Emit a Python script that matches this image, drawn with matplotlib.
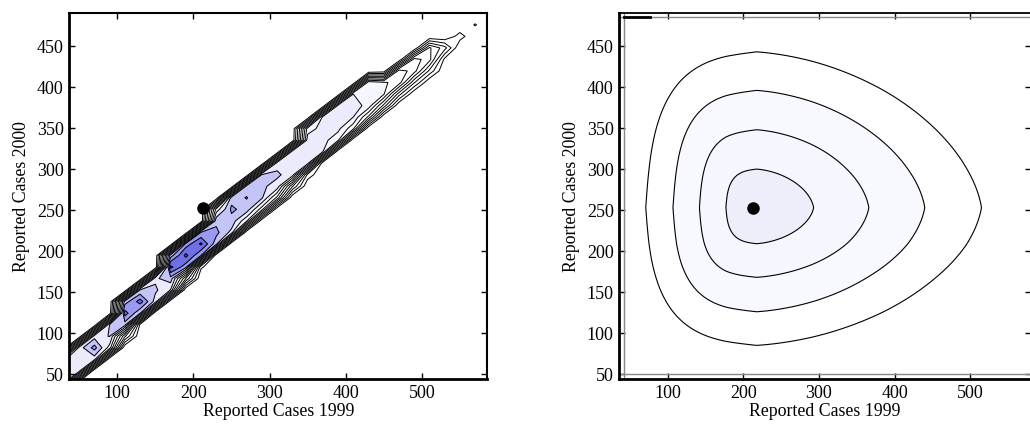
import numpy as np
import matplotlib.pyplot as plt

plt.rcParams['font.family'] = ['Liberation Serif', 'DejaVu Serif']

# ---- left panel: ridge (band units, contour lines at 1..13)
ridge_x = [30, 70, 110, 150, 190, 230, 270, 310, 350, 390, 430, 470, 510, 550, 590]
ridge_c = [50, 84, 122, 157, 194, 229, 264, 294, 328, 362, 390, 414, 437, 463, 488]
ridge_level = [9.4, 9.6, 10.5, 9.8, 11.4, 10.7, 10.6, 9.7, 9.5, 9.3, 8.7, 7.6, 5.4, 1.5, 0.0]
ridge_up = [20, 20, 21, 22, 23, 23, 23, 23, 23, 23, 19, 15, 12, 9, 6]
ridge_lo = [24, 24, 26, 27, 28, 29, 31, 32, 33, 33, 29, 23, 18, 13, 8]

# local peaks (x, y, level)
bump_x = [70, 110, 130, 150, 170, 190, 210, 230, 250, 270, 310, 410, 570]
bump_y = [82, 124, 138, 152, 181, 195, 209, 223, 251, 266, 294, 378, 476]
bump_v = [11.4, 12.5, 12.5, 10.2, 13.3, 13.3, 13.2, 11.3, 11.2, 11.05, 10.15, 9.4, 1.1]

# ---- right panel: contour extents (outer -> inner)
peak_x, peak_y = 217.5, 253
ext_left = [71, 107, 142, 177]
ext_right = [515, 440, 366, 293]
ext_bottom = [85, 126, 168, 209]
ext_top = [443, 396, 348, 300]

obs_x, obs_y = 213, 252


def dist_to_level(dist, marks):
    # marks: distances of the contours from the peak, inner -> outer
    xp = [0] + list(marks)
    fp = list(range(len(xp)))
    step = xp[-1] - xp[-2]
    out = np.interp(dist, xp, fp)
    far = dist > xp[-1]
    out[far] = fp[-1] + (dist[far] - xp[-1]) / step
    return out


# left field on the coarse grid
gx = np.linspace(30, 590, 29)
gy = np.linspace(40, 490, 33)
X, Y = np.meshgrid(gx, gy)
c = np.interp(X, ridge_x, ridge_c)
H = np.interp(X, ridge_x, ridge_level)
wu = np.interp(X, ridge_x, ridge_up)
wl = np.interp(X, ridge_x, ridge_lo)
d = Y - c
prof = np.where(d > 0, np.exp(-(np.abs(d) / wu) ** 30), np.exp(-(np.abs(d) / wl) ** 10))
Z = H * prof
for bx, by, bv in zip(bump_x, bump_y, bump_v):
    i = np.argmin(np.abs(gy - by))
    j = np.argmin(np.abs(gx - bx))
    Z[i, j] = max(Z[i, j], bv)

# right field
rx = np.linspace(42, 580, 400)
ry = np.linspace(50, 485, 400)
RX, RY = np.meshgrid(rx, ry)
dx = RX - peak_x
dy = RY - peak_y
u = np.where(dx < 0,
             dist_to_level(np.abs(dx), [peak_x - e for e in ext_left[::-1]]),
             dist_to_level(np.abs(dx), [e - peak_x for e in ext_right[::-1]]))
v = np.where(dy < 0,
             dist_to_level(np.abs(dy), [peak_y - e for e in ext_bottom[::-1]]),
             dist_to_level(np.abs(dy), [e - peak_y for e in ext_top[::-1]]))
p = np.where(dx < 0, 3.0, 1.85)
R = 0.9 * (u ** p + v ** p) ** (1 / p) + 0.1 * (u + v)

fig = plt.figure(figsize=(10.3, 4.26), dpi=100)
ax1 = fig.add_axes([69.3 / 1030, 47 / 426, 418 / 1030, 365.7 / 426])
ax2 = fig.add_axes([619.3 / 1030, 47 / 426, 411.3 / 1030, 365.7 / 426])

band_cols = ['#ffffff'] * 8 + ['#f6f6fe', '#ebebfc', '#c4c4f6', '#9a9af0', '#7070e6', '#4c4cdc']
left_levels = [-1] + list(range(1, 14)) + [30]
ax1.contourf(X, Y, Z, levels=left_levels, colors=band_cols)
ax1.contour(X, Y, Z, levels=list(range(1, 14)), colors='black', linewidths=0.7)
ax1.plot(obs_x, obs_y, 'o', color='black', markersize=8)
ax1.set_xlim(37, 586)
ax1.set_ylim(44, 490)

right_cols = ['#eeeefb', '#f6f6fe', '#f8f8ff', '#ffffff', '#ffffff']
ax2.contourf(RX, RY, R, levels=[-1, 1, 2, 3, 4, 100], colors=right_cols)
ax2.contour(RX, RY, R, levels=[1, 2, 3, 4], colors='black', linewidths=0.8)
ax2.plot(obs_x, obs_y, 'o', color='black', markersize=8)
ax2.set_xlim(36, 580)
ax2.set_ylim(44, 490)
# plot-range frame of the right panel
ax2.axvline(42, color='#888888', lw=1)
ax2.axhline(50, color='#888888', lw=1)
ax2.axhline(485, color='#888888', lw=1)
ax2.plot([42, 76], [485, 485], color='black', lw=2)

for ax in (ax1, ax2):
    ax.set_xticks([100, 200, 300, 400, 500])
    ax.set_yticks([50, 100, 150, 200, 250, 300, 350, 400, 450])
    ax.tick_params(direction='in', top=True, right=True, length=4, width=1,
                   labelsize=13, colors='black', pad=4)
    ax.set_xlabel('Reported Cases 1999', fontsize=12.8, labelpad=1)
    ax.set_ylabel('Reported Cases 2000', fontsize=12.8, labelpad=5)
    for s in ax.spines.values():
        s.set_linewidth(1.5)
    ax.spines['left'].set_linewidth(2)
    ax.spines['bottom'].set_linewidth(2)
ax2.spines['right'].set_visible(False)
ax2.spines['top'].set_linewidth(1.3)

fig.savefig('out.png', dpi=100)
